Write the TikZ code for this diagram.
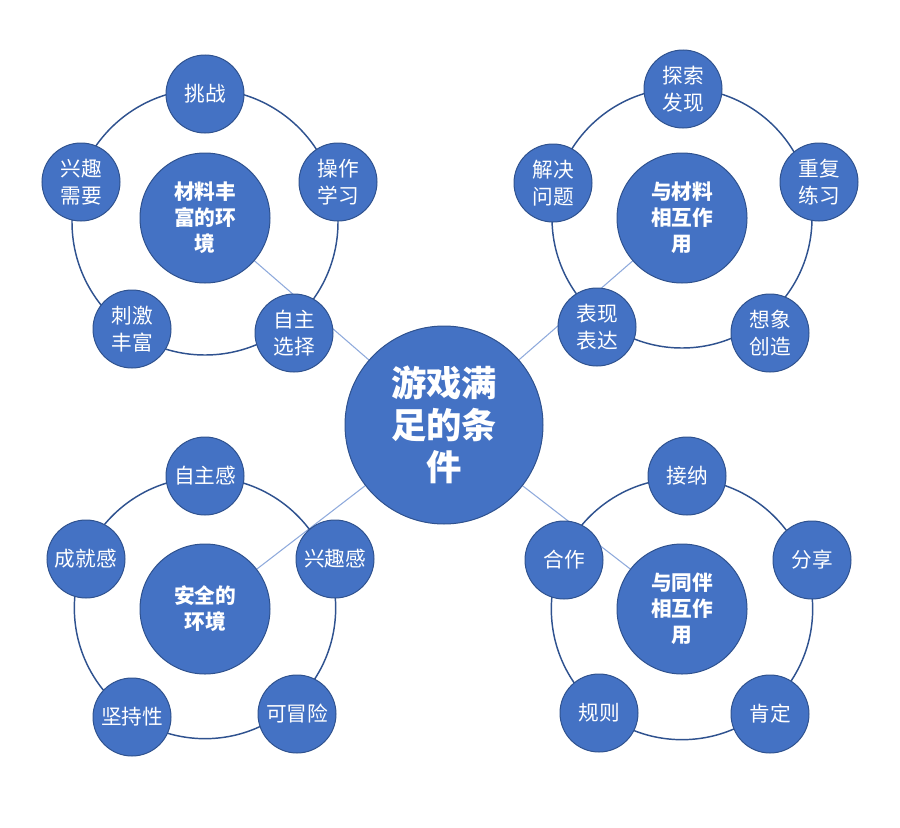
\documentclass[tikz,border=0pt]{standalone}
\usepackage{fontspec}
\setmainfont{Noto Sans CJK SC}
\usetikzlibrary{backgrounds}
\definecolor{fillblue}{HTML}{4472C4}
\definecolor{edgeblue}{HTML}{2F528F}
\definecolor{linkblue}{HTML}{8FAADC}
\begin{document}
\begin{tikzpicture}[x=0.75pt,y=-0.75pt,
every node/.style={circle,draw=edgeblue,line width=0.75pt,fill=fillblue,text=white,align=center,inner sep=0pt},
leaf/.style={minimum size=58.5pt,font=\fontsize{15.5}{20}\selectfont},
hub/.style={minimum size=97.5pt,font=\fontsize{15.5}{19.5}\selectfont\bfseries},
root/.style={minimum size=148.5pt,font=\fontsize{26.5}{31.5}\selectfont\bfseries},
ring/.style={fill=none,line width=1.1pt,minimum size=#1},
link/.style={draw=linkblue,line width=0.8pt}]
\useasboundingbox (0,0) rectangle (900,828);
% rings
\node[ring=199.5pt] (R1) at (205,222) {};
\node[ring=195pt] (R2) at (682,218) {};
\node[ring=196pt] (R3) at (205,608) {};
\node[ring=196pt] (R4) at (682,609) {};
% hubs
\node[hub] (H1) at (205,218) {材料丰\\富的环\\境};
\node[hub] (H2) at (682,218) {与材料\\相互作\\用};
\node[hub] (H3) at (205,609) {安全的\\环境};
\node[hub] (H4) at (682,609) {与同伴\\相互作\\用};
% top left
\node[leaf] (L11) at (205,94) {挑战};
\node[leaf] (L12) at (338,182) {操作\\学习};
\node[leaf] (L13) at (294,333) {自主\\选择};
\node[leaf] (L14) at (132,329) {刺激\\丰富};
\node[leaf] (L15) at (81,182) {兴趣\\需要};
% top right
\node[leaf] (L21) at (683,89) {探索\\发现};
\node[leaf] (L22) at (819,182) {重复\\练习};
\node[leaf] (L23) at (770,333) {想象\\创造};
\node[leaf] (L24) at (597,327) {表现\\表达};
\node[leaf] (L25) at (553,183) {解决\\问题};
% bottom left
\node[leaf] (L31) at (205,476) {自主感};
\node[leaf] (L32) at (335,559) {兴趣感};
\node[leaf] (L33) at (297,714) {可冒险};
\node[leaf] (L34) at (132,717) {坚持性};
\node[leaf] (L35) at (86,559) {成就感};
% bottom right
\node[leaf] (L41) at (687,476) {接纳};
\node[leaf] (L42) at (812,560) {分享};
\node[leaf] (L43) at (770,714) {肯定};
\node[leaf] (L44) at (599,713) {规则};
\node[leaf] (L45) at (564,560) {合作};
% centre
\node[root] (M) at (444,425) {游戏满\\足的条\\件};
\begin{scope}[on background layer]
\draw[link] (M.center) -- (H1.center);
\draw[link] (M.center) -- (H2.center);
\draw[link] (M.center) -- (H3.center);
\draw[link] (M.center) -- (H4.center);
\end{scope}
\end{tikzpicture}
\end{document}
